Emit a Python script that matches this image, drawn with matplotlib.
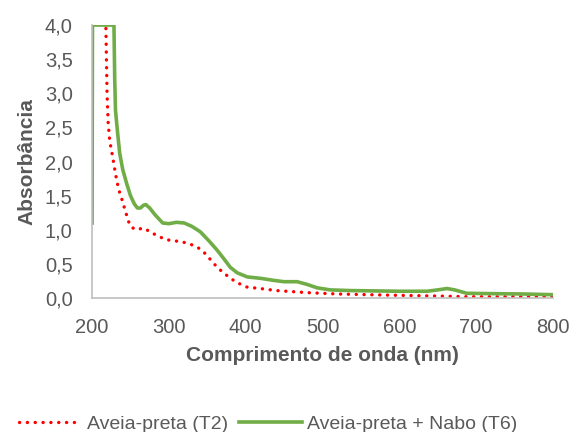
import matplotlib.pyplot as plt
from matplotlib.ticker import FuncFormatter

plt.rcParams['font.family'] = ['Liberation Sans', 'DejaVu Sans']

# Aveia-preta (T2) - red dotted
wl_t2 = [218, 219.5, 221, 223, 226, 229, 232, 235, 239, 244, 249, 254, 259, 264, 269,
         275, 286, 295, 305, 315, 325, 335, 343, 350, 358, 368, 380, 390, 402, 419,
         440, 480, 520, 558, 600, 650, 688, 800]
abs_t2 = [3.95, 3.0, 2.56, 2.3, 2.12, 1.92, 1.73, 1.58, 1.44, 1.25, 1.07, 1.02, 1.0, 1.02, 1.02,
          0.97, 0.91, 0.86, 0.84, 0.83, 0.80, 0.76, 0.70, 0.62, 0.51, 0.40, 0.29, 0.22, 0.16, 0.14,
          0.11, 0.08, 0.06, 0.05, 0.04, 0.03, 0.02, 0.02]

# Aveia-preta + Nabo (T6) - green solid
wl_t6 = [200, 200.5, 228.5, 229.5, 230.5, 233, 236, 240, 245, 250, 255, 259, 263, 267, 270,
         275, 282, 292, 300, 310, 320, 330, 337, 341, 352, 363, 372, 380, 389, 402, 419,
         436, 450, 467, 480, 493, 510, 536, 600, 636, 650, 662, 672, 688, 720, 760, 800]
abs_t6 = [1.1, 4.0, 4.0, 3.2, 2.75, 2.45, 2.12, 1.88, 1.68, 1.5, 1.38, 1.32, 1.32, 1.36, 1.37,
          1.32, 1.22, 1.10, 1.09, 1.11, 1.10, 1.05, 1.0, 0.97, 0.84, 0.70, 0.57, 0.45, 0.37, 0.31, 0.29,
          0.26, 0.24, 0.24, 0.20, 0.15, 0.12, 0.11, 0.10, 0.10, 0.12, 0.14, 0.12, 0.07, 0.065, 0.06, 0.05]

fig = plt.figure(figsize=(5.79, 4.32), dpi=100)
ax = fig.add_axes([0.159, 0.310, 0.796, 0.632])

ax.plot(wl_t2, abs_t2, color='#FF0000', linestyle=(0, (0.05, 2.3)), dash_capstyle='round',
        linewidth=2.4, label='Aveia-preta (T2)')
ax.plot(wl_t6, abs_t6, color='#70AD47', linewidth=2.6, solid_joinstyle='round',
        label='Aveia-preta + Nabo (T6)')

ax.set_xlim(200, 800)
ax.set_ylim(0, 4.0)
ax.set_xticks(range(200, 801, 100))
ax.set_yticks([i * 0.5 for i in range(9)])
ax.yaxis.set_major_formatter(FuncFormatter(lambda v, p: f"{v:.1f}".replace('.', ',')))

for s in ['top', 'right']:
    ax.spines[s].set_visible(False)
for s in ['left', 'bottom']:
    ax.spines[s].set_color('#BFBFBF')
    ax.spines[s].set_linewidth(1.2)
ax.tick_params(length=0, labelsize=14.5, labelcolor='#595959')
ax.tick_params(axis='x', pad=14)
ax.tick_params(axis='y', pad=14)

ax.set_xlabel('Comprimento de onda (nm)', fontsize=15, fontweight='bold', color='#595959', labelpad=7)
ax.set_ylabel('Absorbância', fontsize=15, fontweight='bold', color='#595959', labelpad=6)

fig.legend(loc='center', bbox_to_anchor=(0.463, 0.019), ncol=2, frameon=False,
           fontsize=14, labelcolor='#595959', handlelength=3.2, handletextpad=0.3,
           columnspacing=0.6)

fig.savefig('out.png', dpi=100)
